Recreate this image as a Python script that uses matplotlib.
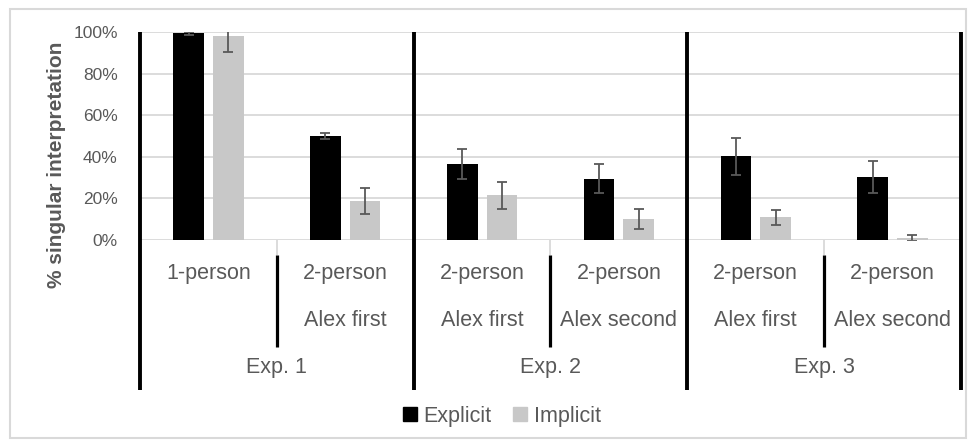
import numpy as np
import matplotlib
matplotlib.use('Agg')
import matplotlib.pyplot as plt
from matplotlib.patches import Patch, Rectangle
from matplotlib.transforms import blended_transform_factory

plt.rcParams['font.family'] = ['Liberation Sans', 'DejaVu Sans']

# Data (% singular interpretation)
conditions = ["1-person", "2-person", "2-person", "2-person", "2-person", "2-person"]
orders = ["", "Alex first", "Alex first", "Alex second", "Alex first", "Alex second"]
experiments = ["Exp. 1", "Exp. 2", "Exp. 3"]
explicit = [99.3, 50.1, 36.5, 29.5, 40.2, 30.4]
explicit_err = [0.6, 1.5, 7.3, 6.9, 8.9, 7.8]
implicit = [98.2, 18.7, 21.5, 10.3, 10.9, 1.1]
implicit_err = [7.8, 6.3, 6.6, 4.8, 3.6, 1.5]

txt = '#595959'
grid = '#d9d9d9'

fig = plt.figure(figsize=(9.74, 4.48), dpi=100)
ax = fig.add_axes([140 / 974, 1 - 240 / 448, 821 / 974, 208 / 448])

x = np.arange(len(conditions))
w = 0.224
off = 0.145
ax.bar(x - off, explicit, w, color='black', zorder=2)
ax.bar(x + off, implicit, w, color='#c8c8c8', zorder=2)
ax.errorbar(x - off, explicit, yerr=explicit_err, fmt='none', ecolor=txt,
            elinewidth=1.3, capsize=3.5, capthick=1.3, zorder=3)
ax.errorbar(x + off, implicit, yerr=implicit_err, fmt='none', ecolor=txt,
            elinewidth=1.3, capsize=3.5, capthick=1.3, zorder=3)

ax.set_xlim(-0.5, 5.5)
ax.set_ylim(0, 100)
ax.set_yticks(np.arange(0, 101, 20))
ax.set_yticklabels([f"{v}%" for v in range(0, 101, 20)])
ax.tick_params(axis='y', length=0, pad=16, labelsize=12.5, labelcolor=txt)
ax.set_xticks([])
ax.grid(axis='y', color=grid, linewidth=1.3, zorder=0)
for s in ax.spines.values():
    s.set_visible(False)

# multi-level category axis
tr = blended_transform_factory(ax.transData, ax.transAxes)
for b in [-0.5, 1.5, 3.5, 5.5]:
    ax.plot([b, b], [1.0, -0.721], transform=tr, color='black', lw=2.8,
            clip_on=False, zorder=4, solid_capstyle='butt')
for b in [0.5, 2.5, 4.5]:
    ax.plot([b, b], [0, -0.072], transform=tr, color=grid, lw=1.3,
            clip_on=False, solid_capstyle='butt')
    ax.plot([b, b], [-0.072, -0.514], transform=tr, color='black', lw=2.3,
            clip_on=False, solid_capstyle='butt')
for i in range(len(conditions)):
    ax.text(i, -0.159, conditions[i], transform=tr, ha='center', va='center',
            fontsize=15.5, color=txt)
    ax.text(i, -0.385, orders[i], transform=tr, ha='center', va='center',
            fontsize=15.5, color=txt)
for k, e in enumerate(experiments):
    ax.text(2 * k + 0.5, -0.615, e, transform=tr, ha='center', va='center',
            fontsize=15.5, color=txt)

fig.text(57 / 974, 1 - 165 / 448, "% singular interpretation", rotation=90,
         ha='center', va='center', fontsize=15, fontweight='bold', color=txt)

handles = [Patch(color='black', label='Explicit'), Patch(color='#c8c8c8', label='Implicit')]
fig.legend(handles=handles, loc='center', bbox_to_anchor=(502 / 974, 1 - 416 / 448),
           ncol=2, frameon=False, fontsize=15.5, labelcolor=txt, handlelength=0.65,
           handleheight=0.65, handletextpad=0.3, columnspacing=1.0)

# outer chart border
fig.patches.append(Rectangle((10 / 974, 1 - 438 / 448), 956 / 974, 429 / 448,
                             transform=fig.transFigure, fill=False,
                             edgecolor=grid, lw=1.5))

fig.savefig('out.png', dpi=100)
